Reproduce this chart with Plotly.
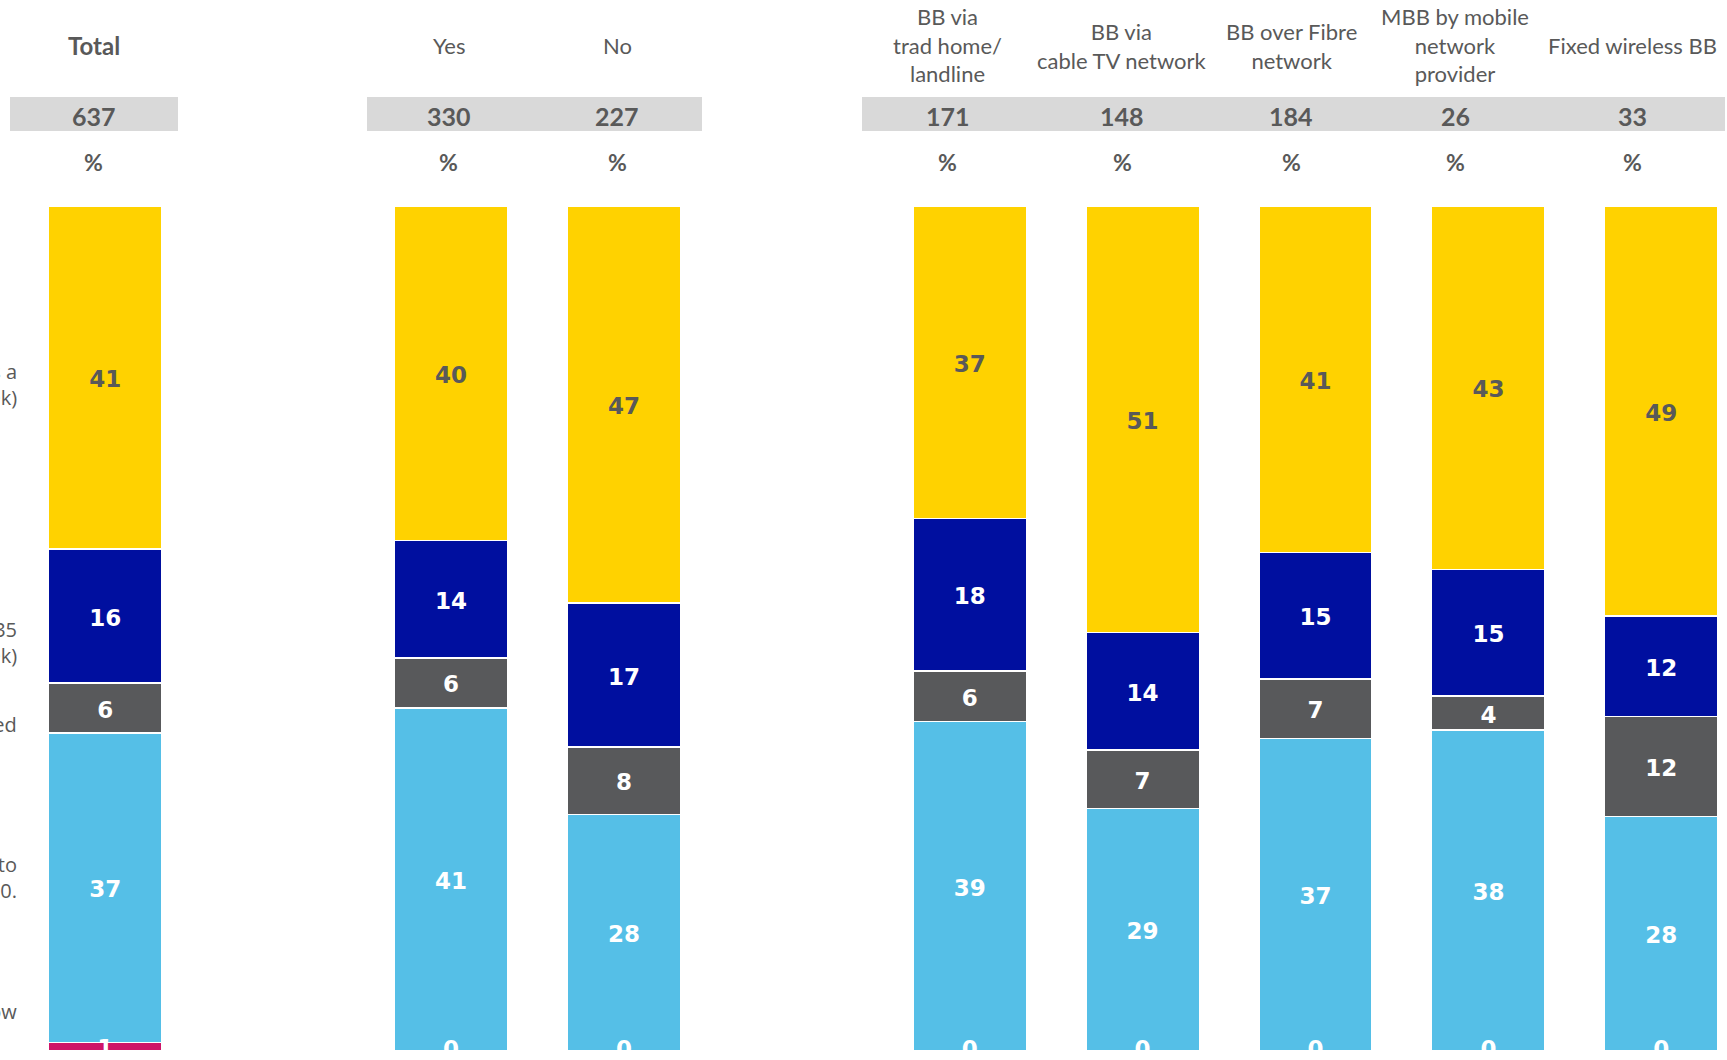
import plotly.graph_objects as go

# ---------------- data ----------------
categories = ["Total", "Yes", "No", "BB via trad home/landline", "BB via cable TV network",
              "BB over Fibre network", "MBB by mobile network provider", "Fixed wireless BB"]
header_labels = ["<b>Total</b>", "Yes", "No", "BB via<br>trad home/<br>landline",
                 "BB via<br>cable TV network", "BB over Fibre<br>network",
                 "MBB by mobile<br>network<br>provider", "Fixed wireless BB"]
base_sizes = ["637", "330", "227", "171", "148", "184", "26", "33"]

# stacked series, bottom to top
s_pink = [1, 0, 0, 0, 0, 0, 0, 0]
s_lightblue = [37, 41, 28, 39, 29, 37, 38, 28]
s_grey = [6, 6, 8, 6, 7, 7, 4, 12]
s_blue = [16, 14, 17, 18, 14, 15, 15, 12]
s_yellow = [41, 40, 47, 37, 51, 41, 43, 49]

series_names = ["Don't know", "Would not be willing to<br>pay anything more than £0.",
                "Not stated", "Would upgrade for up to £35<br>extra (e.g. £3.50 a week)",
                "Would upgrade if there was a<br>faster service (£5 per week)"]

# ---------------- layout constants ----------------
W, H = 1727, 1060
PLOT_BOTTOM = 1051          # pixel row of y=0
PX_PER_UNIT = 8.45          # pixels per percentage point
slot = [0, 2, 3, 5, 6, 7, 8, 9]
SLOT_PX = 172.9
X0_PX = 105.2
BAR_W = 0.656
LABEL_NUDGE = -0.45         # small downward nudge of the segment labels (in % units)

series = [s_pink, s_lightblue, s_grey, s_blue, s_yellow]
colors = ["#CE1567", "#55BFE7", "#58595B", "#000F9F", "#FFD200"]
label_colors = ["white", "white", "white", "white", "#595959"]

fig = go.Figure()

totals = [sum(s[i] for s in series) for i in range(len(categories))]
cum = [0.0] * len(categories)
text_traces = []
for s, c, lc, nm in zip(series, colors, label_colors, series_names):
    fig.add_trace(go.Bar(
        x=slot, y=s, width=BAR_W, name=nm.replace("<br>", " "),
        marker=dict(color=c, line=dict(color="white", width=1.5)),
        hoverinfo="skip", showlegend=False))
    mids = []
    for i, v in enumerate(s):
        nv = v / totals[i] * 100
        mids.append(cum[i] + nv / 2 + (LABEL_NUDGE if v > 0 else 0))
        cum[i] += nv
    text_traces.append(go.Scatter(
        x=slot, y=mids, mode="text", text=[str(v) for v in s],
        textfont=dict(family="DejaVu Sans", size=23, color=lc, weight="bold"),
        textposition="middle center", cliponaxis=True, hoverinfo="skip", showlegend=False))
for t in text_traces:
    fig.add_trace(t)

y_top = PLOT_BOTTOM / PX_PER_UNIT
x_lo = -X0_PX / SLOT_PX
x_hi = (W - X0_PX) / SLOT_PX


def px(x):
    return x / W


def py(y):
    return (PLOT_BOTTOM - y) / PLOT_BOTTOM


GREY_TXT = "#595959"
annotations = []
shapes = []

# grey boxes behind base sizes
for x1, x2 in [(10, 178), (367, 702), (862, 1725)]:
    shapes.append(dict(type="rect", xref="paper", yref="paper",
                       x0=px(x1), x1=px(x2), y0=py(131), y1=py(97),
                       fillcolor="#D9D9D9", line=dict(width=0), layer="below"))

head_x = [93.5, 449, 617, 948, 1122, 1291, 1455, 1632]
head_y = [45, 45, 45, 45.5, 46, 46, 45.5, 45]
head_size = [24, 22, 22, 22, 22, 22, 22, 22]
for hx, hy, hs, lab, n in zip(head_x, head_y, head_size, header_labels, base_sizes):
    annotations.append(dict(x=px(hx), y=py(hy), xref="paper", yref="paper", text=lab,
                            showarrow=False, xanchor="center", yanchor="middle",
                            font=dict(family="Lato", size=hs, color=GREY_TXT)))
    annotations.append(dict(x=px(hx), y=py(116), xref="paper", yref="paper", text="<b>" + n + "</b>",
                            showarrow=False, xanchor="center", yanchor="middle",
                            font=dict(family="Lato", size=25, color=GREY_TXT)))
    annotations.append(dict(x=px(hx), y=py(162), xref="paper", yref="paper", text="<b>%</b>",
                            showarrow=False, xanchor="center", yanchor="middle",
                            font=dict(family="Lato", size=23, color=GREY_TXT)))

# legend-like labels on the left (cut by the page edge, as in the original)
legend_y = [1011, 878, 724, 642, 385]
for ly, nm in zip(legend_y, series_names):
    annotations.append(dict(x=px(19), y=py(ly), xref="paper", yref="paper", text=nm,
                            showarrow=False, xanchor="right", yanchor="middle", align="right",
                            font=dict(family="Open Sans", size=20, color=GREY_TXT)))

fig.update_layout(
    width=W, height=H, barmode="stack", barnorm="percent",
    margin=dict(l=0, r=0, t=0, b=H - PLOT_BOTTOM, pad=0),
    plot_bgcolor="white", paper_bgcolor="white",
    xaxis=dict(range=[x_lo, x_hi], visible=False, fixedrange=True),
    yaxis=dict(range=[0, y_top], visible=False, fixedrange=True),
    annotations=annotations, shapes=shapes, showlegend=False,
)

fig.write_html("out.html")
